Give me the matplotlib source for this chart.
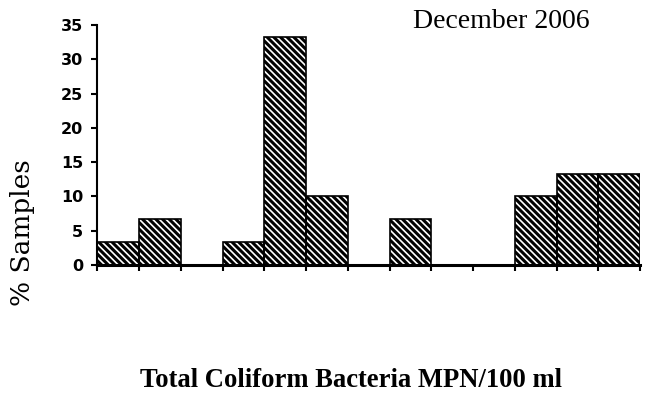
import numpy as np
import matplotlib
matplotlib.use('Agg')
import matplotlib.pyplot as plt

# Percent of samples per MPN bin (13 bins, December 2006)
bin_index = np.arange(13)
pct_samples = [3.3, 6.7, 0, 3.3, 33.3, 10, 0, 6.7, 0, 0, 10, 13.3, 13.3]
y_ticks = [0, 5, 10, 15, 20, 25, 30, 35]

plt.rcParams['hatch.linewidth'] = 1.2
plt.rcParams['hatch.color'] = 'white'

fig = plt.figure(figsize=(6.48, 3.98), dpi=100)
ax = fig.add_axes([0.150, 0.334, 0.838, 0.603])

# black bars with white diagonal stripes, then the black outline on top
ax.bar(bin_index, pct_samples, width=1.0, align='edge', color='black',
       edgecolor='white', linewidth=0, hatch='\\\\\\\\\\')
ax.bar(bin_index, pct_samples, width=1.0, align='edge', fill=False,
       edgecolor='black', linewidth=1.2)

ax.set_xlim(0, 13)
ax.set_ylim(0, 35)
ax.set_yticks(y_ticks)
ax.set_xticks(np.arange(14))
ax.set_xticklabels([])
for lab in ax.get_yticklabels():
    lab.set_fontfamily('DejaVu Sans')
    lab.set_fontweight('bold')
    lab.set_fontsize(11.5)

ax.spines['top'].set_visible(False)
ax.spines['right'].set_visible(False)
ax.spines['left'].set_linewidth(1.5)
ax.spines['bottom'].set_linewidth(2.2)
ax.tick_params(axis='both', direction='out', length=4, width=1.5, pad=6)

fig.text(23 / 648, 1 - 233 / 398, '% Samples', rotation=90, ha='center', va='center',
         fontfamily='DejaVu Serif', fontsize=19)
fig.text(413 / 648, 1 - 21 / 398, 'December 2006', ha='left', va='center',
         fontfamily='Liberation Serif', fontsize=20)

fig.text(0.542, 0.045, 'Total Coliform Bacteria MPN/100 ml', ha='center', va='center',
         fontfamily='Liberation Serif', fontweight='bold', fontsize=19.2)

plt.savefig('out.png', dpi=100)
